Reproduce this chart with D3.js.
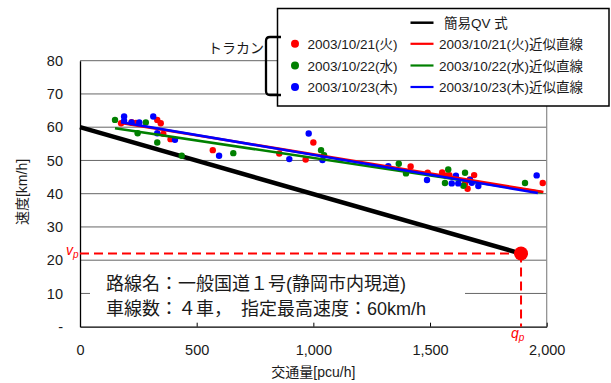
<!DOCTYPE html>
<html><head><meta charset="utf-8">
<script src="https://cdn.jsdelivr.net/npm/d3@7"></script>
<style>
body{margin:0;background:#fff;}
svg{display:block;font-family:"Liberation Sans","Noto Sans CJK JP",sans-serif;}
</style></head>
<body><svg id="c" width="611" height="383"></svg>
<script>
// ---- data ----
const xTicks = [0, 500, 1000, 1500, 2000];
const yTicks = [0, 10, 20, 30, 40, 50, 60, 70, 80];
const seriesNames = ["2003/10/21(火)", "2003/10/22(水)", "2003/10/23(木)"];
const seriesColors = ["#ff0000", "#008000", "#0000ff"];
const fitNames = ["2003/10/21(火)近似直線", "2003/10/22(水)近似直線", "2003/10/23(木)近似直線"];
const qvName = "簡易QV 式";
const bracketLabel = "トラカン";

const redQ = [176,221,240,331,346,357,388,569,854,967,1000,1417,1490,1552,1571,1583,1650,1661,1671,1689,1983];
const redV = [61.2,61.5,61.3,62.2,61.2,58.0,56.4,53.1,52.1,50.3,55.4,48.2,46.3,46.4,45.5,45.6,43.0,41.5,44.3,45.6,43.2];
const greenQ = [150,247,282,331,436,657,1033,1046,1366,1397,1564,1578,1643,1650,1907];
const greenV = [62.2,58.2,61.4,55.4,51.4,52.2,53.1,51.6,49.0,46.1,43.2,47.3,42.4,46.3,43.2];
const blueQ = [189,189,221,254,314,331,407,596,897,980,1039,1321,1487,1593,1611,1621,1671,1679,1707,1957];
const blueV = [63.2,61.9,61.4,61.4,63.2,58.2,56.2,51.4,50.4,58.1,50.1,48.3,44.1,43.1,45.4,43.1,44.1,43.3,42.3,45.5];

// fitted line endpoints [q, v]
const redFitQ = [176, 1986], redFitV = [61.3, 40.5];
const greenFitQ = [150, 1983], greenFitV = [59.7, 40.4];
const blueFitQ = [176, 1962], blueFitV = [61.5, 40.2];

// simple QV line
const qvQ = [0, 1890];
const qvV = [60, 22];
const qp = 1890, vp = 22;

const noteLines = ["路線名：一般国道１号(静岡市内現道)", "車線数：４車，\u3000指定最高速度：60km/h"];
const xTitle = "交通量[pcu/h]";
const yTitle = "速度[km/h]";

// ---- drawing ----
const svg = d3.select("#c");
const x = d3.scaleLinear().domain([0, 2000]).range([80, 546.7]);
const y = d3.scaleLinear().domain([0, 80]).range([326.7, 60.7]);

// gridlines
svg.append("g").selectAll("line").data(yTicks.filter(d => d > 0)).join("line")
  .attr("x1", x(0)).attr("x2", x(2000))
  .attr("y1", d => y(d)).attr("y2", d => y(d))
  .attr("stroke", "#666").attr("stroke-width", 1);
// right border
svg.append("line").attr("x1", x(2000)).attr("x2", x(2000)).attr("y1", y(80)).attr("y2", y(0))
  .attr("stroke", "#8a8a8a").attr("stroke-width", 1.2);

// annotation box background (covers gridlines)
svg.append("rect").attr("x", 90).attr("y", 264).attr("width", 375).attr("height", 60).attr("fill", "#fff");
svg.append("g").selectAll("text").data(noteLines).join("text")
  .attr("x", 106).attr("y", (d, i) => 290 + i * 25)
  .attr("font-size", 18).attr("fill", "#1a1a1a").text(d => d);

// axes
const yAxis = d3.axisLeft(y).tickValues(yTicks).tickFormat(d => d === 0 ? "-" : d)
  .tickSize(0).tickPadding(17);
const gy = svg.append("g").attr("transform", `translate(${x(0)},0)`).call(yAxis);
gy.select(".domain").attr("stroke", "#000").attr("stroke-width", 1.3);
gy.selectAll("text").attr("font-size", 14.5).attr("fill", "#1a1a1a").attr("font-family", "Liberation Sans, Arial, sans-serif");

const xAxis = d3.axisBottom(x).tickValues(xTicks).tickFormat(d3.format(","))
  .tickSizeInner(-4).tickSizeOuter(0).tickPadding(18);
const gx = svg.append("g").attr("transform", `translate(0,${y(0)})`).call(xAxis);
gx.select(".domain").attr("stroke", "#000").attr("stroke-width", 1.3);
gx.selectAll(".tick line").attr("stroke", "#000");
gx.selectAll("text").attr("font-size", 14.5).attr("fill", "#1a1a1a").attr("font-family", "Liberation Sans, Arial, sans-serif");

// axis titles
svg.append("text").attr("x", x(1000)).attr("y", 377).attr("text-anchor", "middle")
  .attr("font-size", 14).attr("fill", "#1a1a1a").text(xTitle);
svg.append("text").attr("transform", "translate(27,192) rotate(-90)").attr("text-anchor", "middle")
  .attr("font-size", 14).attr("fill", "#1a1a1a").text(yTitle);

// dashed guide lines
svg.append("line").attr("x1", x(0)).attr("x2", x(qp)).attr("y1", y(vp)).attr("y2", y(vp))
  .attr("stroke", "#ff0000").attr("stroke-width", 2).attr("stroke-dasharray", "9,5");
svg.append("line").attr("x1", x(qp)).attr("x2", x(qp)).attr("y1", y(vp)).attr("y2", y(0))
  .attr("stroke", "#ff0000").attr("stroke-width", 2).attr("stroke-dasharray", "9,5");

// QV line
const line = d3.line().x(d => x(d[0])).y(d => y(d[1]));
svg.append("path").datum(qvQ.map((q, i) => [q, qvV[i]])).attr("d", line)
  .attr("fill", "none").attr("stroke", "#000").attr("stroke-width", 4.5);
svg.append("circle").attr("cx", x(qp)).attr("cy", y(vp)).attr("r", 7).attr("fill", "#ff0000");

// vp, qp labels
const vl = svg.append("text").attr("x", 66).attr("y", 255).attr("fill", "#ff0000").attr("font-style", "italic");
vl.append("tspan").attr("font-size", 14).text("v");
vl.append("tspan").attr("font-size", 10).attr("dy", 3).text("p");
const ql = svg.append("text").attr("x", 511).attr("y", 338).attr("fill", "#ff0000").attr("font-style", "italic");
ql.append("tspan").attr("font-size", 14).text("q");
ql.append("tspan").attr("font-size", 10).attr("dy", 3).text("p");

// scatter points
const pts = [[redQ, redV], [greenQ, greenV], [blueQ, blueV]];
pts.forEach((s, k) => {
  svg.append("g").selectAll("circle").data(s[0].map((q, i) => [q, s[1][i]])).join("circle")
    .attr("cx", d => x(d[0])).attr("cy", d => y(d[1])).attr("r", 3.2).attr("fill", seriesColors[k]);
});

// fitted lines
const fits = [[greenFitQ, greenFitV, 1], [redFitQ, redFitV, 0], [blueFitQ, blueFitV, 2]];
fits.forEach(f => {
  svg.append("path").datum(f[0].map((q, i) => [q, f[1][i]])).attr("d", line)
    .attr("fill", "none").attr("stroke", seriesColors[f[2]]).attr("stroke-width", 2.6);
});

// legend
const lg = svg.append("g");
lg.append("rect").attr("x", 277.5).attr("y", 8.5).attr("width", 331.5).attr("height", 97.5)
  .attr("fill", "#fff").attr("stroke", "#000").attr("stroke-width", 1.5);
const rowY = [22.7, 43.8, 65.5, 87];
lg.append("line").attr("x1", 410.5).attr("x2", 433.5).attr("y1", rowY[0]).attr("y2", rowY[0])
  .attr("stroke", "#000").attr("stroke-width", 2.5);
lg.append("text").attr("x", 444).attr("y", rowY[0] + 5).attr("font-size", 13.5).attr("fill", "#1a1a1a").text(qvName);
seriesNames.forEach((n, i) => {
  const yy = rowY[i + 1];
  lg.append("circle").attr("cx", 295).attr("cy", yy).attr("r", 4).attr("fill", seriesColors[i]);
  lg.append("text").attr("x", 307.5).attr("y", yy + 5).attr("font-size", 13.5).attr("fill", "#1a1a1a").text(n);
  lg.append("line").attr("x1", 410.5).attr("x2", 433.5).attr("y1", yy).attr("y2", yy)
    .attr("stroke", seriesColors[i]).attr("stroke-width", 2.2);
  lg.append("text").attr("x", 439).attr("y", yy + 5).attr("font-size", 13.5).attr("fill", "#1a1a1a").text(fitNames[i]);
});

// bracket
svg.append("path")
  .attr("d", "M281,37 L270,37 Q266,37 266,41 L266,91 Q266,95 270,95 L281,95")
  .attr("fill", "none").attr("stroke", "#000").attr("stroke-width", 2.3);
svg.append("text").attr("x", 208).attr("y", 53).attr("font-size", 14).attr("fill", "#1a1a1a").text(bracketLabel);
</script></body></html>
